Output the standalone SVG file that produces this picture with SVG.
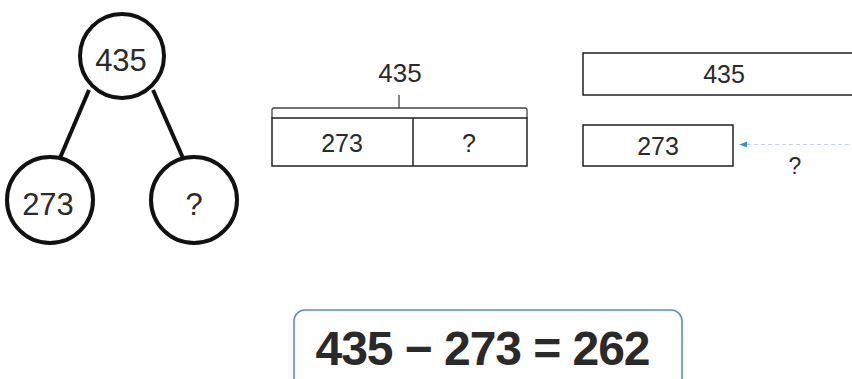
<svg xmlns="http://www.w3.org/2000/svg" width="852" height="379" viewBox="0 0 852 379">
<style>
.t{font-family:"Liberation Sans",Arial,sans-serif;fill:#2a2a2a;text-anchor:middle}
.c{fill:#fff;stroke:#111;stroke-width:4}
.b{fill:#fff;stroke:#222;stroke-width:1.5}
.ln{stroke:#111;stroke-width:4;fill:none}
</style>
<defs>
<marker id="ah" viewBox="0 0 10 10" refX="1" refY="5" markerWidth="8" markerHeight="8" orient="auto" markerUnits="userSpaceOnUse">
<path d="M10,1 L0,5 L10,9 Z" fill="#3a8fd0"/>
</marker>
</defs>
<rect width="852" height="379" fill="#fff"/>
<g id="connectors">
<line class="ln" x1="89" y1="90" x2="60" y2="158"/>
<line class="ln" x1="153" y1="90" x2="183" y2="158"/>
<path d="M272,118 L272,110 Q272,108 274,108 L525,108 Q527,108 527,110 L527,118" fill="none" stroke="#444" stroke-width="1.3"/>
<line x1="399" y1="95" x2="399" y2="108" stroke="#444" stroke-width="1.3"/>
<line x1="740" y1="144.5" x2="852" y2="144.5" stroke="#c8d4e0" stroke-width="1.2" stroke-dasharray="4 3" marker-start="url(#ah)"/>
</g>
<g id="n-top">
<circle class="c" cx="122" cy="56" r="42"/>
<text class="t" x="121" y="71" font-size="31">435</text>
</g>
<g id="n-left">
<circle class="c" cx="50" cy="200" r="43"/>
<text class="t" x="48" y="215" font-size="31">273</text>
</g>
<g id="n-right">
<circle class="c" cx="194" cy="200" r="43"/>
<text class="t" x="194" y="215" font-size="31">?</text>
</g>
<g id="bar-total-label">
<text class="t" x="400" y="82" font-size="26">435</text>
</g>
<g id="bar">
<rect class="b" x="272" y="118" width="255" height="48"/>
<line x1="413" y1="118" x2="413" y2="166" stroke="#222" stroke-width="1.5"/>
<text class="t" x="342" y="152" font-size="25">273</text>
<text class="t" x="469" y="152" font-size="25">?</text>
</g>
<g id="cmp-top">
<rect class="b" x="583" y="53" width="280" height="42"/>
<text class="t" x="724" y="83" font-size="25">435</text>
</g>
<g id="cmp-bottom">
<rect class="b" x="583" y="125" width="150" height="41"/>
<text class="t" x="658" y="155" font-size="25">273</text>
</g>
<g id="cmp-diff">
<text class="t" x="795" y="174" font-size="23">?</text>
</g>
<g id="equation">
<rect x="294" y="310" width="388" height="90" rx="11" fill="#fff" stroke="#5a8fc0" stroke-width="1.6"/>
<text class="t" x="483" y="365" font-size="48" font-weight="bold" fill="#1a1a1a" textLength="335" lengthAdjust="spacing">435 − 273 = 262</text>
</g>
</svg>
